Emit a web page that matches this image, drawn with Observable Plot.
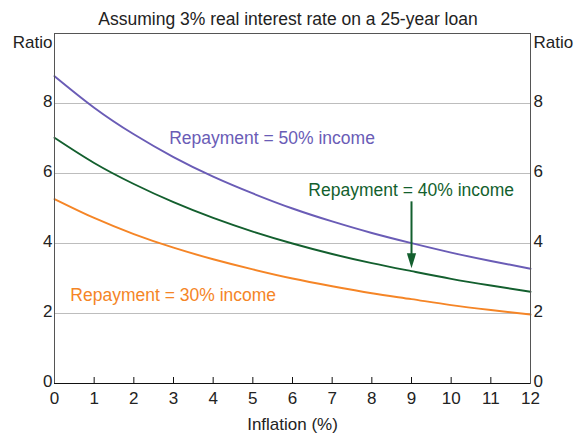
<!DOCTYPE html>
<html>
<head>
<meta charset="utf-8">
<script src="https://cdn.jsdelivr.net/npm/d3@7"></script>
<script src="https://cdn.jsdelivr.net/npm/@observablehq/plot@0.6"></script>
<style>
  html, body { margin: 0; padding: 0; background: #fff; }
  #wrap { width: 576px; height: 434px; overflow: hidden; font-family: "Liberation Sans", Arial, sans-serif; color: #222; }
  #sub { height: 30px; box-sizing: border-box; padding-top: 11px; line-height: 1; font-size: 17.5px; text-align: center; white-space: nowrap; }
</style>
</head>
<body>
<div id="wrap">
  <div id="sub">Assuming 3% real interest rate on a 25-year loan</div>
  <div id="chart"></div>
</div>
<script>
// Data
const inflation = [0, 1, 2, 3, 4, 5, 6, 7, 8, 9, 10, 11, 12];
const ratio50 = [8.78, 7.88, 7.12, 6.47, 5.91, 5.43, 5.00, 4.63, 4.30, 4.01, 3.74, 3.50, 3.28];
const ratio40 = [7.02, 6.30, 5.70, 5.18, 4.73, 4.34, 4.00, 3.70, 3.44, 3.21, 2.99, 2.80, 2.62];
const ratio30 = [5.27, 4.73, 4.27, 3.88, 3.55, 3.26, 3.00, 2.78, 2.58, 2.41, 2.24, 2.10, 1.97];

const seriesNames = ["Repayment = 50% income", "Repayment = 40% income", "Repayment = 30% income"];
const seriesColors = ["#6a5cb6", "#135f2e", "#f58526"];
const labelX = [2.89, 6.40, 0.40];
const labelY = [7.00, 5.53, 2.52];

const xTicks = [0, 1, 2, 3, 4, 5, 6, 7, 8, 9, 10, 11, 12];
const yTicks = [0, 2, 4, 6, 8];
const gridTicks = [2, 4, 6, 8];
const axisLabel = "Ratio";
const xTitle = "Inflation (%)";

// Arrow pointing to the 40% line
const arrowX = [9];
const arrowFrom = [5.19];
const arrowTo = [3.29];

const seriesValues = [ratio50, ratio40, ratio30];
const lineMarks = seriesValues.map((vals, s) =>
  Plot.line(inflation.map((x, i) => ({x, y: vals[i]})), {
    x: "x", y: "y", stroke: seriesColors[s], strokeWidth: 1.9, curve: "natural"
  })
);
const labelMarks = seriesNames.map((name, s) =>
  Plot.text([name], {
    x: () => labelX[s], y: () => labelY[s], text: d => d,
    textAnchor: "start", lineAnchor: "middle", fill: seriesColors[s], fontSize: 17.5
  })
);

const arrowData = arrowX.map((x, i) => ({x, y1: arrowFrom[i], y2: arrowTo[i]}));
const headSymbol = {
  draw(context) {
    context.moveTo(-4.6, -15);
    context.lineTo(4.6, -15);
    context.lineTo(0, 0);
    context.closePath();
  }
};

const chart = Plot.plot({
  width: 576,
  height: 404,
  marginTop: 3,
  marginLeft: 54,
  marginRight: 46,
  marginBottom: 51,
  style: { fontFamily: "'Liberation Sans', Arial, sans-serif", fontSize: "17px", background: "white", color: "#222", overflow: "visible" },
  x: { domain: [0, 12] },
  y: { domain: [0, 10] },
  marks: [
    Plot.gridY(gridTicks, { stroke: "#bdbdbd", strokeOpacity: 1, strokeWidth: 1 }),
    ...lineMarks,
    Plot.frame({ stroke: "#555" }),
    Plot.ruleY([0], { stroke: "#111", strokeWidth: 1.2 }),
    Plot.ruleX(xTicks.slice(1, -1), { stroke: "#111", insetTop: 344 }),
    Plot.axisX({ ticks: xTicks, tickSize: 0, tickPadding: 8, label: null, tickFormat: d => String(d) }),
    Plot.axisY({ anchor: "left", ticks: yTicks, tickSize: 0, tickPadding: 2, dy: -2, label: null, tickFormat: d => String(d) }),
    Plot.axisY({ anchor: "right", ticks: yTicks, tickSize: 0, tickPadding: 3, dy: -2, label: null, tickFormat: d => String(d) }),
    Plot.text([axisLabel], { frameAnchor: "top-left", textAnchor: "end", lineAnchor: "top", dx: -2, dy: 2, text: d => d }),
    Plot.text([axisLabel], { frameAnchor: "top-right", textAnchor: "start", lineAnchor: "top", dx: 3, dy: 2, text: d => d }),
    Plot.text([xTitle], { frameAnchor: "bottom", lineAnchor: "middle", dy: 41, text: d => d }),
    ...labelMarks,
    Plot.ruleX(arrowData, { x: "x", y1: "y1", y2: "y2", stroke: seriesColors[1], strokeWidth: 2, insetBottom: 10 }),
    Plot.dot(arrowData, { x: "x", y: "y2", r: 5, symbol: headSymbol, fill: seriesColors[1], stroke: "none" })
  ]
});
document.getElementById("chart").appendChild(chart);
</script>
</body>
</html>
